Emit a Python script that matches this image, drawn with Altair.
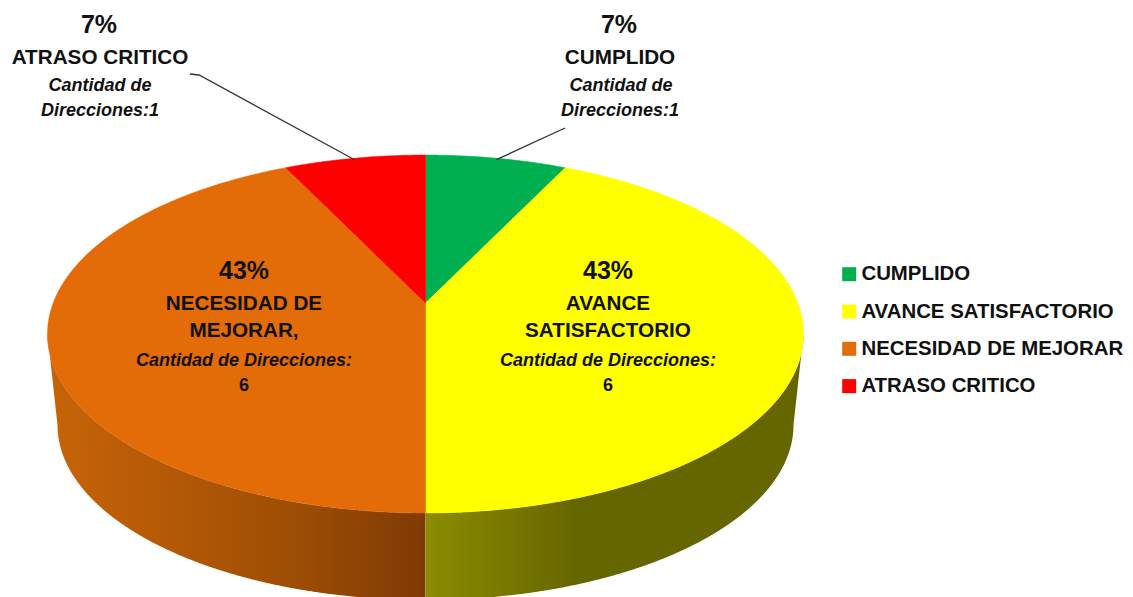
import numpy as np
import pandas as pd
import altair as alt

# ---- values ----
categories = ["CUMPLIDO", "AVANCE SATISFACTORIO", "NECESIDAD DE MEJORAR", "ATRASO CRITICO"]
counts = [1, 6, 6, 1]
colors = ["#00B050", "#FFFF00", "#E36C09", "#FF0000"]

# ---- layout of the tilted pie (reference pixels) ----
W, H = 1125, 597
M = 8
CX, AY = 425.5, 303.0
A, B, K = 372.3, 173.6, 0.1732
BOT_CY, BOT_RX, BOT_RY = 425.0, 368.0, 175.0
FONT = "Liberation Sans"
INK = "#111111"


def project(theta):
    u, v = np.sin(theta), np.cos(theta)
    d = 1 + K * v
    return CX + A * u / d, AY - B * v / d


def bottom_rim(theta):
    return CX + BOT_RX * np.sin(theta), BOT_CY - BOT_RY * np.cos(theta)


def envelope(px, py):
    """Upper and lower edge of a closed polygon at each of its vertex x positions."""
    xs = np.unique(np.round(px, 3))
    n = len(px)
    rows = []
    for x in xs:
        ys = []
        for i in range(n):
            j = (i + 1) % n
            x0, x1, y0, y1 = px[i], px[j], py[i], py[j]
            lo, hi = min(x0, x1), max(x0, x1)
            if lo - 1e-3 <= x <= hi + 1e-3:
                if abs(x1 - x0) < 1e-6:
                    ys += [y0, y1]
                else:
                    ys.append(y0 + (y1 - y0) * (x - x0) / (x1 - x0))
        rows.append({"x": x, "y": min(ys), "y2": max(ys)})
    return rows


total = sum(counts)
edges = np.cumsum([0] + counts) / total * 2 * np.pi

rows = []
mids = []
for name, a0, a1 in zip(categories, edges[:-1], edges[1:]):
    th = np.linspace(a0, a1, max(8, int(np.degrees(a1 - a0) * 2)))
    rx, ry = project(th)
    for r in envelope(np.r_[CX, rx], np.r_[AY, ry]):
        rows.append({"cat": name, **r})
    mids.append((a0 + a1) / 2)
top_df = pd.DataFrame(rows)

# side wall: lower rim of the top face, then the silhouette down to the bottom rim
widest = np.arcsin(K)


def wall(a_top, b_top, a_bot, b_bot):
    tx, ty = project(np.linspace(a_top, b_top, 260))
    bx, by = bottom_rim(np.linspace(a_bot, b_bot, 260))
    return pd.DataFrame(envelope(np.r_[tx, bx], np.r_[ty, by]))


right = wall(np.pi / 2 + widest, np.pi, np.pi, np.pi / 2)
left = wall(np.pi, 3 * np.pi / 2 - widest, 3 * np.pi / 2, np.pi)

x_scale = alt.Scale(domain=[M, W], nice=False, zero=False)
y_scale = alt.Scale(domain=[M, H], reverse=True, nice=False, zero=False)
X = alt.X("x:Q", scale=x_scale, axis=None)
Y = alt.Y("y:Q", scale=y_scale, axis=None)

wall_left = alt.Chart(left).mark_area(
    fill=alt.Gradient(
        gradient="linear", x1=0, y1=0, x2=1, y2=0,
        stops=[
            alt.GradientStop(offset=0, color="#C76408"),
            alt.GradientStop(offset=0.35, color="#B25806"),
            alt.GradientStop(offset=0.7, color="#9A4B04"),
            alt.GradientStop(offset=1, color="#7F3A04"),
        ],
    )
).encode(x=X, y=Y, y2="y2:Q")

wall_right = alt.Chart(right).mark_area(
    fill=alt.Gradient(
        gradient="linear", x1=0, y1=0, x2=1, y2=0,
        stops=[
            alt.GradientStop(offset=0, color="#8C8C00"),
            alt.GradientStop(offset=0.4, color="#666600"),
            alt.GradientStop(offset=1, color="#666600"),
        ],
    )
).encode(x=X, y=Y, y2="y2:Q")

cat_scale = alt.Scale(domain=categories, range=colors)
top = alt.Chart(top_df).mark_area(opacity=1, strokeWidth=0.5).encode(
    x=X,
    y=Y,
    y2="y2:Q",
    stroke=alt.Stroke("cat:N", scale=cat_scale, sort=categories, legend=None),
    color=alt.Color(
        "cat:N",
        scale=cat_scale,
        sort=categories,
        legend=alt.Legend(
            title=None,
            orient="none",
            legendX=842 - M - 3,
            legendY=264 - M,
            symbolType="square",
            symbolSize=196,
            symbolStrokeWidth=0,
            symbolOpacity=1,
            labelFont=FONT,
            labelFontWeight="bold",
            labelFontSize=20.4,
            labelColor=INK,
            labelLimit=400,
            labelOffset=2,
            rowPadding=16.3,
            padding=0,
        ),
    ),
)

# leader lines from the rim at each small slice's middle
lx0, ly0 = project(np.array([mids[3]]))
rx0, ry0 = project(np.array([mids[0]]))
leaders = pd.DataFrame([
    {"k": "l", "o": 0, "x": 190.0, "y": 74.0},
    {"k": "l", "o": 1, "x": 199.0, "y": 75.0},
    {"k": "l", "o": 2, "x": float(lx0[0]), "y": float(ly0[0]) + 1.5},
    {"k": "r", "o": 0, "x": 565.0, "y": 128.0},
    {"k": "r", "o": 1, "x": float(rx0[0]), "y": float(ry0[0]) + 1.5},
])
leader_marks = alt.Chart(leaders).mark_line(color="#333333", strokeWidth=1.3).encode(
    x=X, y=Y, detail="k:N", order="o:Q"
)

pct = [f"{round(c / total * 100)}%" for c in counts]

pct_df = pd.DataFrame([
    {"t": pct[3], "x": 99, "y": 33},
    {"t": pct[0], "x": 619, "y": 33},
    {"t": pct[2], "x": 244, "y": 279},
    {"t": pct[1], "x": 608, "y": 279},
])
name_df = pd.DataFrame([
    {"t": "ATRASO CRITICO", "x": 100, "y": 64},
    {"t": "CUMPLIDO", "x": 620, "y": 64},
    {"t": "NECESIDAD DE", "x": 244, "y": 310},
    {"t": "MEJORAR,", "x": 244, "y": 337},
    {"t": "AVANCE", "x": 608, "y": 310},
    {"t": "SATISFACTORIO", "x": 608, "y": 337},
])
detail_df = pd.DataFrame([
    {"t": "Cantidad de", "x": 100, "y": 91},
    {"t": f"Direcciones:{counts[3]}", "x": 100, "y": 116},
    {"t": "Cantidad de", "x": 621, "y": 91},
    {"t": f"Direcciones:{counts[0]}", "x": 620, "y": 116},
    {"t": "Cantidad de Direcciones:", "x": 244, "y": 366},
    {"t": "Cantidad de Direcciones:", "x": 608, "y": 366},
])
count_df = pd.DataFrame([
    {"t": str(counts[2]), "x": 244, "y": 391},
    {"t": str(counts[1]), "x": 608, "y": 391},
])


def text_layer(df, size, italic=False):
    kw = {"fontStyle": "italic"} if italic else {}
    return alt.Chart(df).mark_text(
        font=FONT, fontWeight="bold", fontSize=size, color=INK,
        align="center", baseline="alphabetic", **kw
    ).encode(x=X, y=Y, text="t:N")


chart = alt.layer(
    wall_left,
    wall_right,
    top,
    leader_marks,
    text_layer(pct_df, 25),
    text_layer(name_df, 20.7),
    text_layer(detail_df, 18, italic=True),
    text_layer(count_df, 18),
).properties(
    width=W - M,
    height=H - M,
    padding=0,
    background="white",
    autosize=alt.AutoSizeParams(type="none"),
).configure_view(stroke=None)

chart.save("out.html", embed_options={"renderer": "svg", "actions": False})
